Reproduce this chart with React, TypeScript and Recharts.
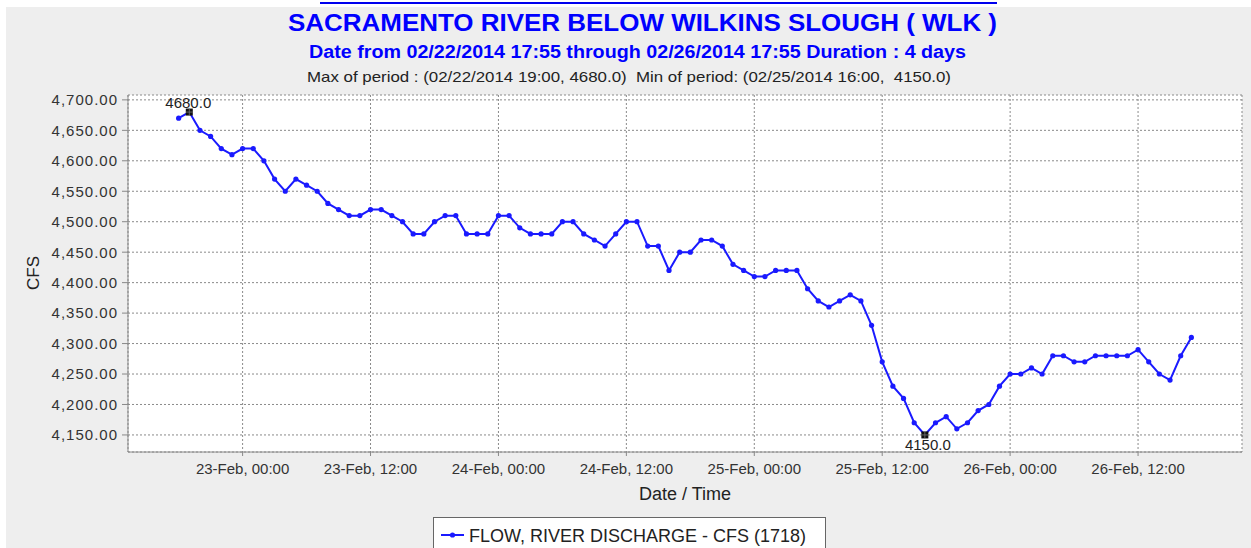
import { LineChart, Line, XAxis, YAxis, CartesianGrid } from 'recharts'

// Hourly flow readings (CFS) at WLK, one array per calendar day.
// First reading on 22-Feb is at 18:00, last on 26-Feb is at 17:00.
const feb22FirstHour = 18
const feb22 = [4670, 4680, 4650, 4640, 4620, 4610]
const feb23 = [
  4620, 4620, 4600, 4570, 4550, 4570, 4560, 4550, 4530, 4520, 4510, 4510,
  4520, 4520, 4510, 4500, 4480, 4480, 4500, 4510, 4510, 4480, 4480, 4480,
]
const feb24 = [
  4510, 4510, 4490, 4480, 4480, 4480, 4500, 4500, 4480, 4470, 4460, 4480,
  4500, 4500, 4460, 4460, 4420, 4450, 4450, 4470, 4470, 4460, 4430, 4420,
]
const feb25 = [
  4410, 4410, 4420, 4420, 4420, 4390, 4370, 4360, 4370, 4380, 4370, 4330,
  4270, 4230, 4210, 4170, 4150, 4170, 4180, 4160, 4170, 4190, 4200, 4230,
]
const feb26 = [
  4250, 4250, 4260, 4250, 4280, 4280, 4270, 4270, 4280, 4280, 4280, 4280,
  4290, 4270, 4250, 4240, 4280, 4310,
]
const days = [feb22, feb23, feb24, feb25, feb26]

// x axis is hours since 23-Feb 00:00
const tickHours = [0, 12, 24, 36, 48, 60, 72, 84]
const tickLabels = [
  '23-Feb, 00:00', '23-Feb, 12:00', '24-Feb, 00:00', '24-Feb, 12:00',
  '25-Feb, 00:00', '25-Feb, 12:00', '26-Feb, 00:00', '26-Feb, 12:00',
]
const yTicks = [4150, 4200, 4250, 4300, 4350, 4400, 4450, 4500, 4550, 4600, 4650, 4700]

const data = days.flatMap((vals, d) =>
  vals.map((flow, i) => ({
    hour: (d - 1) * 24 + (d === 0 ? feb22FirstHour + i : i),
    flow,
  }))
)
const flows = data.map((p) => p.flow)
const maxFlow = Math.max(...flows)
const minFlow = Math.min(...flows)

const BLUE = '#1a1aff'
const FONT = '"Liberation Sans", Arial, sans-serif'

function Marker({ x, y }: { x: number; y: number }) {
  return (
    <g>
      <rect x={x - 3.5} y={y - 3.5} width={7} height={7} fill="#111" />
      <line x1={x - 3.5} x2={x + 3.5} y1={y} y2={y} stroke="#777" strokeWidth={0.8} />
      <line x1={x} x2={x} y1={y - 3.5} y2={y + 3.5} stroke="#777" strokeWidth={0.8} />
    </g>
  )
}

function FlowDot(props: any) {
  const { cx, cy, payload } = props
  if (payload.flow === maxFlow || payload.flow === minFlow) {
    const above = payload.flow === maxFlow
    return (
      <g>
        <Marker x={cx} y={cy} />
        <text
          x={above ? cx - 1 : cx + 3}
          y={above ? cy - 4 : cy + 15}
          textAnchor="middle"
          fontFamily={FONT}
          fontSize={15}
          fill="#222"
        >
          {payload.flow.toFixed(1)}
        </text>
      </g>
    )
  }
  return <circle cx={cx} cy={cy} r={2.6} fill={BLUE} />
}

const fmtY = (v: number) =>
  v.toLocaleString('en-US', { minimumFractionDigits: 2, maximumFractionDigits: 2 })

export default function App() {
  return (
    <div
      style={{
        position: 'absolute',
        left: 0,
        top: 0,
        width: 1251,
        height: 548,
        background: '#fff',
        overflow: 'hidden',
        fontFamily: FONT,
      }}
    >
      {/* cut-off link from the page above */}
      <div style={{ position: 'absolute', left: 320, top: 2, width: 677, height: 2, background: '#0000ee' }} />
      <div style={{ position: 'absolute', left: 6, top: 7, right: 0, bottom: 0, background: '#eeeeee' }} />

      <svg width={1251} height={548} style={{ position: 'absolute', left: 0, top: 0 }}>
        <text x={288} y={31} fontFamily={FONT} fontSize={23} fontWeight="bold" fill="#0000ff"
          textLength={709} lengthAdjust="spacingAndGlyphs">
          SACRAMENTO RIVER BELOW WILKINS SLOUGH ( WLK )
        </text>
        <text x={309} y={58} fontFamily={FONT} fontSize={18} fontWeight="bold" fill="#0000ff"
          textLength={657} lengthAdjust="spacingAndGlyphs">
          Date from 02/22/2014 17:55 through 02/26/2014 17:55 Duration : 4 days
        </text>
        <text x={307} y={82} fontFamily={FONT} fontSize={15} fill="#222"
          textLength={644} lengthAdjust="spacingAndGlyphs" style={{ whiteSpace: 'pre' }}>
          {'Max of period : (02/22/2014 19:00, 4680.0)  Min of period: (02/25/2014 16:00,  4150.0)'}
        </text>
        <text x={33} y={273} transform="rotate(-90 33 273)" textAnchor="middle" dominantBaseline="central"
          fontFamily={FONT} fontSize={17} fill="#222">
          CFS
        </text>
        <text x={685} y={500} textAnchor="middle" fontFamily={FONT} fontSize={18} fill="#222">
          Date / Time
        </text>
      </svg>

      <div style={{ position: 'absolute', left: 0, top: 0 }}>
        <LineChart width={1251} height={548} data={data} margin={{ top: 95, right: 9, bottom: 66, left: 28 }}>
          <CartesianGrid stroke="#8a8a8a" strokeDasharray="2 2" fill="#fff" />
          <XAxis
            dataKey="hour"
            type="number"
            domain={[-10.75, 93.75]}
            ticks={tickHours}
            interval={0}
            allowDataOverflow
            tickFormatter={(v: number) => tickLabels[tickHours.indexOf(v)]}
            height={30}
            tickSize={4}
            tickMargin={7}
            stroke="#888"
            tick={{ fill: '#333', fontSize: 15, fontFamily: FONT }}
          />
          <XAxis xAxisId="top" orientation="top" type="number" domain={[-10.75, 93.75]} height={0} tick={false} tickLine={false} stroke="#888" />
          <YAxis
            type="number"
            domain={[4122, 4708]}
            ticks={yTicks}
            interval={0}
            allowDataOverflow
            tickFormatter={fmtY}
            width={100}
            tickSize={6}
            tickMargin={4}
            stroke="#888"
            tick={{ fill: '#333', fontSize: 15, fontFamily: FONT, letterSpacing: 1 }}
          />
          <YAxis yAxisId="right" orientation="right" width={0} tick={false} tickLine={false} stroke="#888" />
          <Line
            dataKey="flow"
            type="linear"
            stroke={BLUE}
            strokeWidth={2}
            dot={(p: any) => <FlowDot key={p.index} {...p} />}
            activeDot={false}
            isAnimationActive={false}
          />
        </LineChart>
      </div>

      <div
        style={{
          position: 'absolute',
          left: 433,
          top: 517,
          width: 391,
          height: 40,
          background: '#fff',
          border: '1px solid #666',
        }}
      >
        <svg width={391} height={40}>
          <line x1={7} x2={30} y1={17} y2={17} stroke={BLUE} strokeWidth={2} />
          <circle cx={18.5} cy={17} r={2.6} fill={BLUE} />
          <text x={35} y={24} fontFamily={FONT} fontSize={18} fill="#222">
            FLOW, RIVER DISCHARGE - CFS (1718)
          </text>
        </svg>
      </div>
    </div>
  )
}
